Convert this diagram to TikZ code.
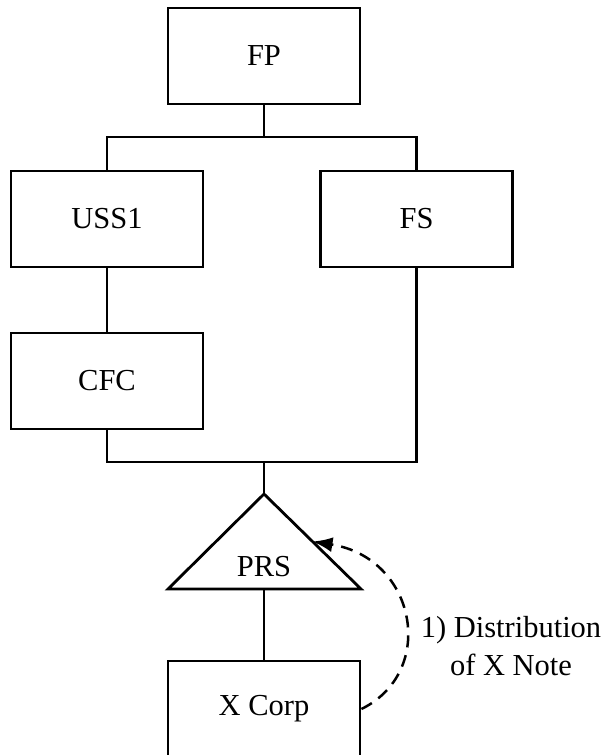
\documentclass[tikz,border=0pt]{standalone}
\usepackage{fontspec}
\setmainfont{Liberation Serif}
\usetikzlibrary{arrows.meta,calc}

\begin{document}
\begin{tikzpicture}[x=1pt, y=1pt,
    font=\fontsize{30.5}{38}\selectfont,
    line width=2.8pt,
    box/.style={draw, minimum width=192pt, minimum height=96pt, inner sep=0pt},
    flow/.style={dashed, dash pattern=on 12pt off 8pt, line width=2.5pt,
                 -{Latex[length=20pt,width=15pt]}}]
        \useasboundingbox (0,0) rectangle (609,-755);
        % entities
        \node[box] (fp) at (264,-56) {FP};
        \node[box] (uss1) at (107,-219) {USS1};
        \node[box] (fs) at (416.5,-219) {FS};
        \node[box] (cfc) at (107,-381) {CFC};
        \node[box] (xcorp) at (264,-709) {X Corp};
        % partnership triangle
        \coordinate (prs top) at (264,-494);
        \coordinate (prs bl) at (168,-589);
        \coordinate (prs br) at (361,-589);
        \coordinate (prs base) at (264,-589);
        \coordinate (prs side) at ($(prs top)!0.5!(prs br)$);
        \draw (prs top) -- (prs br) -- (prs bl) -- cycle;
        \node (prs) at (264,-567) {PRS};
        % ownership lines
        \coordinate (busA) at (264,-137);
        \coordinate (busB) at (264,-462);
        \draw (fp) -- (busA);
        \draw (uss1.north) |- (busA) -| (fs.north);
        \draw (uss1) -- (cfc);
        \draw (cfc.south) |- (busB) -| (fs.south);
        \draw (busB) -- (prs top);
        \draw (prs base) -- (xcorp);
        % distribution
        \draw[flow] (xcorp.east) .. controls (437,-672) and (417,-558) .. (prs side);
        \node[align=center, inner sep=0pt] (dist) at (511,-646) {1) Distribution\\of X Note};
      \end{tikzpicture}
\end{document}
